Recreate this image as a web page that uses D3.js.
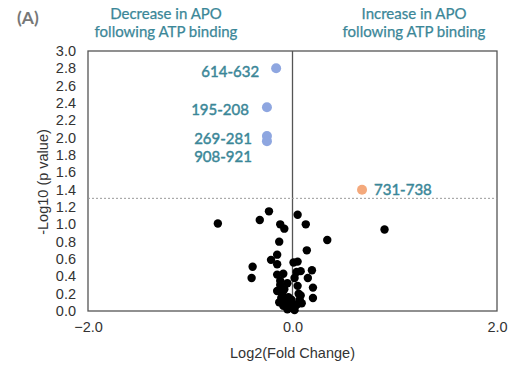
<!DOCTYPE html>
<html><head><meta charset="utf-8">
<script src="https://cdn.jsdelivr.net/npm/d3@7"></script>
<style>body{margin:0;background:#fff}</style>
</head><body>
<svg id="c" width="513" height="366"></svg>
<script>
const xTicks = [-2, 0, 2];
const yTicks = [0,0.2,0.4,0.6,0.8,1.0,1.2,1.4,1.6,1.8,2.0,2.2,2.4,2.6,2.8,3.0];
const threshold = 1.3;
const blackX = [-0.73,-0.32,-0.23,-0.12,-0.08,0.05,0.13,0.34,0.90,-0.13,0.14,-0.15,-0.21,-0.15,0.01,0.05,-0.39,-0.40,0.08,0.19,0.15,-0.15,-0.09,-0.12,0.02,0.05,0.20,0.20,-0.15,-0.08,-0.11,-0.04,0.07,0.09,-0.09,-0.02,0.02,-0.06,0.05,-0.01,-0.12,-0.05,0.06,0.04,-0.10,0.00,-0.05,0.03,-0.13,0.08];
const blackY = [1.01,1.05,1.15,1.00,0.95,1.11,1.00,0.82,0.94,0.80,0.70,0.65,0.59,0.54,0.56,0.57,0.51,0.38,0.46,0.47,0.38,0.42,0.43,0.35,0.38,0.29,0.27,0.15,0.23,0.25,0.15,0.16,0.13,0.09,0.06,0.05,0.01,0.11,0.08,0.13,0.30,0.32,0.20,0.45,0.20,0.03,0.02,0.06,0.10,0.18];
const blueX = [-0.16,-0.25,-0.25,-0.25];
const blueY = [2.80,2.35,2.02,1.96];
const blueLabels = ["614-632","195-208","269-281","908-921"];
const orangeX = [0.68];
const orangeY = [1.40];
const orangeLabels = ["731-738"];

const svg = d3.select("#c");
const L=88,R=497,T=51,B=311;
const x = d3.scaleLinear().domain([-2,2]).range([L,R]);
const y = d3.scaleLinear().domain([0,3]).range([B,T]);
const teal = "#3b8798";
const axisFont = "Liberation Sans, Arial, sans-serif";
const axSize = 14.5;

// frame
svg.append("rect").attr("x",L).attr("y",T).attr("width",R-L).attr("height",B-T)
  .attr("fill","none").attr("stroke","#555").attr("stroke-width",1.3);
// zero line
svg.append("line").attr("x1",x(0)).attr("x2",x(0)).attr("y1",T).attr("y2",B)
  .attr("stroke","#555").attr("stroke-width",1.3);
// threshold
svg.append("line").attr("x1",L).attr("x2",R).attr("y1",y(threshold)).attr("y2",y(threshold))
  .attr("stroke","#999").attr("stroke-width",1).attr("stroke-dasharray","2,2");

// axes
const ya = svg.append("g").attr("transform",`translate(${L},0)`)
  .call(d3.axisLeft(y).tickValues(yTicks).tickFormat(d3.format(".1f")).tickSize(0).tickPadding(12));
ya.select(".domain").remove();
ya.selectAll("text").attr("font-family",axisFont).attr("font-size",axSize).attr("fill","#333");
const xa = svg.append("g").attr("transform",`translate(0,${B})`)
  .call(d3.axisBottom(x).tickValues(xTicks).tickFormat(d3.format(".1f")).tickSize(0).tickPadding(11));
xa.select(".domain").remove();
xa.selectAll("text").attr("font-family",axisFont).attr("font-size",axSize).attr("fill","#333");

svg.append("text").attr("x",x(0)).attr("y",358).attr("text-anchor","middle")
  .attr("font-family",axisFont).attr("font-size",axSize).attr("fill","#333").text("Log2(Fold Change)");
svg.append("text").attr("transform",`translate(48,${(T+B)/2+1}) rotate(-90)`).attr("text-anchor","middle")
  .attr("font-family",axisFont).attr("font-size",axSize).attr("fill","#333").text("-Log10 (p value)");

// header
svg.append("text").attr("x",17).attr("y",24).attr("font-family","Lato, sans-serif").attr("font-weight","bold")
  .attr("font-size",17.5).attr("fill","#777").text("(A)");
const hdr = [[166,"Decrease in APO","following ATP binding"],[414,"Increase in APO","following ATP binding"]];
hdr.forEach(h=>{
  [[19,h[1]],[37,h[2]]].forEach(r=>{
    svg.append("text").attr("x",h[0]).attr("y",r[0]).attr("text-anchor","middle").attr("font-family","Lato, sans-serif")
      .attr("font-size",15).attr("fill",teal).attr("stroke",teal).attr("stroke-width",0.25).text(r[1]);
  });
});

// points
svg.append("g").selectAll("circle").data(blackX.map((d,i)=>[d,blackY[i]])).join("circle")
  .attr("cx",d=>x(d[0])).attr("cy",d=>y(d[1])).attr("r",4.2).attr("fill","#000");
svg.append("g").selectAll("circle").data(blueX.map((d,i)=>[d,blueY[i]])).join("circle")
  .attr("cx",d=>x(d[0])).attr("cy",d=>y(d[1])).attr("r",5).attr("fill","#8ea6e0");
svg.append("g").selectAll("circle").data(orangeX.map((d,i)=>[d,orangeY[i]])).join("circle")
  .attr("cx",d=>x(d[0])).attr("cy",d=>y(d[1])).attr("r",5).attr("fill","#f4a97c");

// labels
const lblFont = "Lato, sans-serif";
const blueLblY = [2.76,2.32,1.985,1.777];
const blueLblGap = [17,18,15,15];
blueLabels.forEach((t,i)=>{
  svg.append("text").attr("x",x(blueX[i])-blueLblGap[i]).attr("y",y(blueLblY[i])).attr("dy","0.35em")
    .attr("text-anchor","end").attr("font-family",lblFont).attr("font-size",15)
    .attr("fill",teal).attr("stroke",teal).attr("stroke-width",0.45).text(t);
});
orangeLabels.forEach((t,i)=>{
  svg.append("text").attr("x",x(orangeX[i])+12).attr("y",y(orangeY[i])).attr("dy","0.35em")
    .attr("font-family",lblFont).attr("font-size",15)
    .attr("fill",teal).attr("stroke",teal).attr("stroke-width",0.45).text(t);
});
</script>
</body></html>
